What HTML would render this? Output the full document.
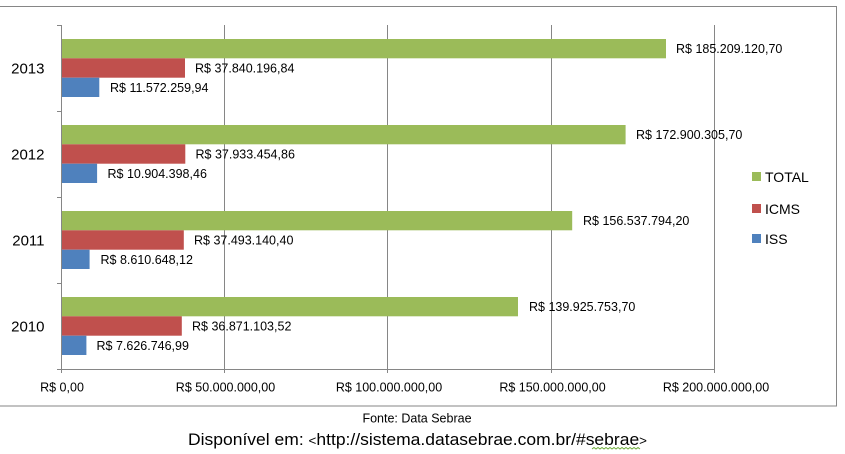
<!DOCTYPE html>
<html><head><meta charset="utf-8"><style>
html,body{margin:0;padding:0;background:#fff;width:845px;height:454px;overflow:hidden}
svg{display:block}
text{font-family:"Liberation Sans",sans-serif;fill:#000}
</style></head><body>
<svg width="845" height="454" viewBox="0 0 845 454" xmlns="http://www.w3.org/2000/svg">
<!-- chart border -->
<rect x="-2" y="6.5" width="838.5" height="399.5" fill="#fff" stroke="#868686" stroke-width="1"/>
<!-- gridlines -->
<g stroke="#868686" stroke-width="1">
<line x1="224.5" y1="25" x2="224.5" y2="373"/>
<line x1="387.5" y1="25" x2="387.5" y2="373"/>
<line x1="551.5" y1="25" x2="551.5" y2="373"/>
<line x1="714.5" y1="25" x2="714.5" y2="373"/>
<!-- axes -->
<line x1="61.5" y1="25" x2="61.5" y2="373"/>
<line x1="61.5" y1="369.5" x2="714.5" y2="369.5"/>
<!-- category ticks -->
<line x1="57" y1="25.5" x2="61.5" y2="25.5"/>
<line x1="57" y1="111.5" x2="61.5" y2="111.5"/>
<line x1="57" y1="197.5" x2="61.5" y2="197.5"/>
<line x1="57" y1="283.5" x2="61.5" y2="283.5"/>
<line x1="57" y1="369.5" x2="61.5" y2="369.5"/>
</g>
<!-- bars 2013 -->
<rect x="62" y="39" width="604" height="19.3" fill="#9BBB59"/>
<rect x="62" y="58.3" width="123" height="19.4" fill="#C0504D"/>
<rect x="62" y="77.7" width="37.3" height="19.3" fill="#4F81BD"/>
<!-- bars 2012 -->
<rect x="62" y="125" width="563.6" height="19.3" fill="#9BBB59"/>
<rect x="62" y="144.3" width="123.3" height="19.4" fill="#C0504D"/>
<rect x="62" y="163.7" width="35.1" height="19.3" fill="#4F81BD"/>
<!-- bars 2011 -->
<rect x="62" y="211" width="510.2" height="19.3" fill="#9BBB59"/>
<rect x="62" y="230.3" width="121.8" height="19.4" fill="#C0504D"/>
<rect x="62" y="249.7" width="27.6" height="19.3" fill="#4F81BD"/>
<!-- bars 2010 -->
<rect x="62" y="297" width="456" height="19.3" fill="#9BBB59"/>
<rect x="62" y="316.3" width="119.8" height="19.4" fill="#C0504D"/>
<rect x="62" y="335.7" width="24.4" height="19.3" fill="#4F81BD"/>

<!-- value labels -->
<g font-size="12.5">
<text x="676" y="53">R$ 185.209.120,70</text>
<text x="195" y="72.5">R$ 37.840.196,84</text>
<text x="110" y="91.8">R$ 11.572.259,94</text>

<text x="636" y="139">R$ 172.900.305,70</text>
<text x="195.5" y="158.5">R$ 37.933.454,86</text>
<text x="107.5" y="177.8">R$ 10.904.398,46</text>

<text x="583" y="225">R$ 156.537.794,20</text>
<text x="194" y="244.5">R$ 37.493.140,40</text>
<text x="100.5" y="263.8">R$ 8.610.648,12</text>

<text x="529" y="311">R$ 139.925.753,70</text>
<text x="192" y="330.5">R$ 36.871.103,52</text>
<text x="96.5" y="349.8">R$ 7.626.746,99</text>
</g>

<!-- year labels -->
<g font-size="15" text-anchor="end">
<text x="44.5" y="73.5">2013</text>
<text x="44.5" y="159.5">2012</text>
<text x="44.5" y="245.5">2011</text>
<text x="44.5" y="331.5">2010</text>
</g>

<!-- x axis labels -->
<g font-size="12.5" text-anchor="middle">
<text x="62" y="391.5">R$ 0,00</text>
<text x="225.5" y="391.5">R$ 50.000.000,00</text>
<text x="389" y="391.5">R$ 100.000.000,00</text>
<text x="552.5" y="391.5">R$ 150.000.000,00</text>
<text x="716" y="391.5">R$ 200.000.000,00</text>
</g>

<!-- legend -->
<rect x="752" y="172" width="9" height="9" fill="#9BBB59"/>
<rect x="752" y="204" width="9" height="9" fill="#C0504D"/>
<rect x="752" y="234" width="9" height="9" fill="#4F81BD"/>
<g font-size="14">
<text x="765" y="182">TOTAL</text>
<text x="765" y="214">ICMS</text>
<text x="765" y="244">ISS</text>
</g>

<!-- footer -->
<text x="417" y="422.5" font-size="12.5" text-anchor="middle">Fonte: Data Sebrae</text>
<text x="188" y="445" font-size="17" textLength="459" lengthAdjust="spacingAndGlyphs">Disponível em: <tspan font-size="13">&lt;</tspan>http://sistema.datasebrae.com.br/#sebrae<tspan font-size="13">&gt;</tspan></text>
<polyline fill="none" stroke="#6fae3c" stroke-width="1" points="592,449 594,447.5 596,449 598,447.5 600,449 602,447.5 604,449 606,447.5 608,449 610,447.5 612,449 614,447.5 616,449 618,447.5 620,449 622,447.5 624,449 626,447.5 628,449 630,447.5 632,449 634,447.5 636,449 638,447.5 640,449"/>
</svg>
</body></html>
